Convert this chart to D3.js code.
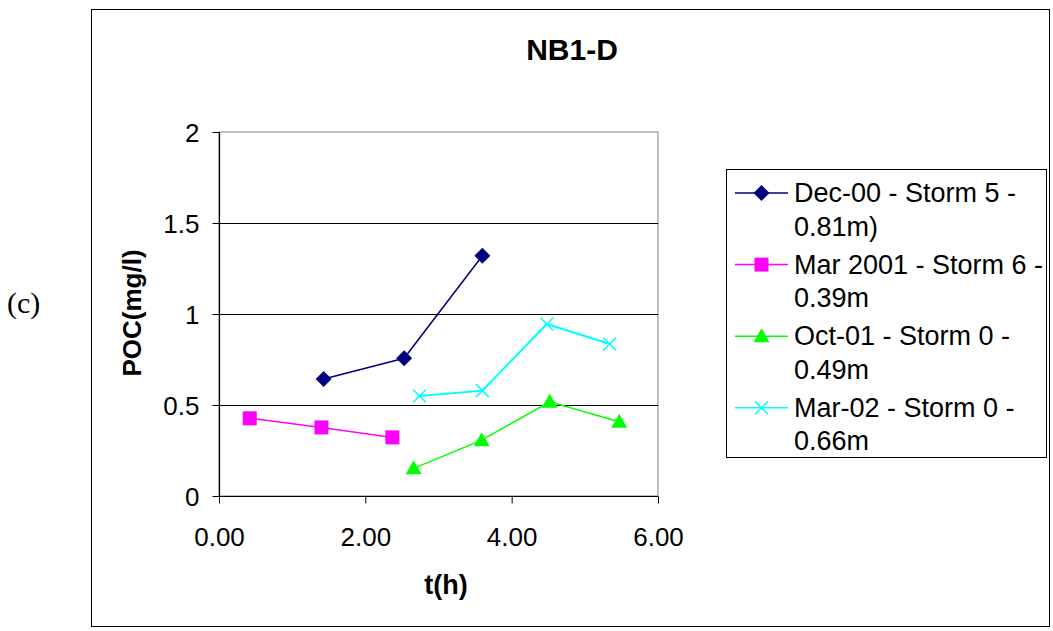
<!DOCTYPE html>
<html><head><meta charset="utf-8">
<script src="https://cdn.jsdelivr.net/npm/d3@7/dist/d3.min.js"></script>
<style>body{margin:0;background:#fff}svg{display:block}text{font-family:"Liberation Sans",Arial,sans-serif}</style>
</head><body>
<svg id="c" width="1053" height="631"></svg>
<script>
const seriesNames = ["Dec-00 - Storm 5 - 0.81m)", "Mar 2001 - Storm 6 - 0.39m", "Oct-01 - Storm 0 - 0.49m", "Mar-02 - Storm 0 - 0.66m"];
const legendLines = [["Dec-00 - Storm 5 -", "0.81m)"], ["Mar 2001 - Storm 6 -", "0.39m"], ["Oct-01 - Storm 0 -", "0.49m"], ["Mar-02 - Storm 0 -", "0.66m"]];
const seriesColors = ["#000080", "#ff00ff", "#00ff00", "#00ffff"];
const seriesSymbols = ["diamond", "square", "triangle", "x"];
const decT = [1.43, 2.53, 3.60];
const decPOC = [0.643, 0.757, 1.32];
const marT = [0.42, 1.40, 2.37];
const marPOC = [0.427, 0.377, 0.322];
const octT = [2.66, 3.59, 4.52, 5.47];
const octPOC = [0.152, 0.307, 0.518, 0.408];
const mar02T = [2.74, 3.60, 4.48, 5.34];
const mar02POC = [0.549, 0.579, 0.945, 0.835];
const xTicks = [0, 2, 4, 6];
const yTicks = [0, 0.5, 1, 1.5, 2];
const title = "NB1-D", xLabel = "t(h)", yLabel = "POC(mg/l)", panel = "(c)";

const series = [[decT, decPOC], [marT, marPOC], [octT, octPOC], [mar02T, mar02POC]]
  .map((s, i) => ({name: seriesNames[i], color: seriesColors[i], sym: seriesSymbols[i],
                   pts: s[0].map((t, j) => ({t, v: s[1][j]}))}));

const svg = d3.select("#c");
const L = 219, R = 658, T = 132, B = 496;
const x = d3.scaleLinear().domain([0, 6]).range([L, R]);
const y = d3.scaleLinear().domain([0, 2]).range([B, T]);

// outer frame
svg.append("rect").attr("x", 91.5).attr("y", 9.5).attr("width", 958).attr("height", 617)
  .attr("fill", "none").attr("stroke", "#000").attr("stroke-width", 1);

// plot area border (gray)
svg.append("rect").attr("x", L).attr("y", T).attr("width", R - L).attr("height", B - T)
  .attr("fill", "none").attr("stroke", "#808080").attr("stroke-width", 1);

// gridlines
svg.append("g").selectAll("line").data(yTicks.filter(d => d > 0 && d < 2)).join("line")
  .attr("x1", L).attr("x2", R).attr("y1", d => Math.round(y(d)) + 0.5).attr("y2", d => Math.round(y(d)) + 0.5)
  .attr("stroke", "#000").attr("stroke-width", 1);

// axes
const yAxis = d3.axisLeft(y).tickValues(yTicks).tickSize(7).tickPadding(13).tickFormat(d3.format(""));
const gy = svg.append("g").attr("transform", `translate(${L + 0.5},0)`).call(yAxis);
const xAxis = d3.axisBottom(x).tickValues(xTicks).tickSize(7).tickPadding(24).tickFormat(d3.format(".2f"));
const gx = svg.append("g").attr("transform", `translate(0,${B + 0.5})`).call(xAxis);
[gx, gy].forEach(g => {
  g.select(".domain").attr("stroke", "#000").attr("stroke-width", 1.2);
  g.selectAll(".tick line").attr("stroke", "#000");
  g.selectAll("text").attr("font-size", 26).attr("fill", "#000");
});
gy.selectAll("text").attr("dy", "0.36em");
gx.select(".domain").attr("d", `M${L},0H${R}`);
gy.select(".domain").attr("d", `M0,${T}V${B}`);

function drawSymbol(g, sym, color, cx, cy) {
  if (sym === "diamond") {
    g.append("path").attr("d", `M${cx},${cy - 8}L${cx + 8},${cy}L${cx},${cy + 8}L${cx - 8},${cy}Z`).attr("fill", color);
  } else if (sym === "square") {
    g.append("rect").attr("x", cx - 7).attr("y", cy - 7).attr("width", 14).attr("height", 14).attr("fill", color);
  } else if (sym === "triangle") {
    g.append("path").attr("d", `M${cx},${cy - 8}L${cx + 8},${cy + 6}L${cx - 8},${cy + 6}Z`).attr("fill", color);
  } else {
    g.append("path").attr("d", `M${cx - 6.5},${cy - 6.5}L${cx + 6.5},${cy + 6.5}M${cx - 6.5},${cy + 6.5}L${cx + 6.5},${cy - 6.5}`)
      .attr("stroke", color).attr("stroke-width", 1.5).attr("fill", "none");
  }
}

const line = d3.line().x(d => x(d.t)).y(d => y(d.v));
series.forEach(s => {
  const g = svg.append("g");
  g.append("path").datum(s.pts).attr("d", line).attr("fill", "none").attr("stroke", s.color).attr("stroke-width", s.sym === "x" ? 2 : 1.5);
  s.pts.forEach(p => drawSymbol(g, s.sym, s.color, x(p.t), y(p.v)));
});

// title & labels
svg.append("text").attr("x", 572).attr("y", 60).attr("text-anchor", "middle").attr("font-size", 30).attr("font-weight", "bold").text(title);
svg.append("text").attr("x", 446).attr("y", 594).attr("text-anchor", "middle").attr("font-size", 27).attr("font-weight", "bold").text(xLabel);
svg.append("text").attr("transform", `translate(141,313) rotate(-90)`).attr("text-anchor", "middle").attr("font-size", 26).attr("font-weight", "bold").text(yLabel);
svg.append("text").attr("x", 7).attr("y", 313).attr("font-size", 30).style("font-family", "'Liberation Serif', 'Times New Roman', serif").text(panel);

// legend
const lg = svg.append("g");
lg.append("rect").attr("x", 726.5).attr("y", 169.5).attr("width", 320).attr("height", 288).attr("fill", "#fff").attr("stroke", "#000");
series.forEach((s, i) => {
  const cy = 193 + i * 71.6;
  lg.append("line").attr("x1", 735).attr("x2", 788).attr("y1", cy).attr("y2", cy).attr("stroke", s.color).attr("stroke-width", 1.5);
  drawSymbol(lg, s.sym, s.color, 761.5, cy);
  legendLines[i].forEach((t, k) => {
    lg.append("text").attr("x", 794).attr("y", 202 + i * 71.6 + k * 33.5).attr("font-size", 27).text(t);
  });
});
</script>
</body></html>
